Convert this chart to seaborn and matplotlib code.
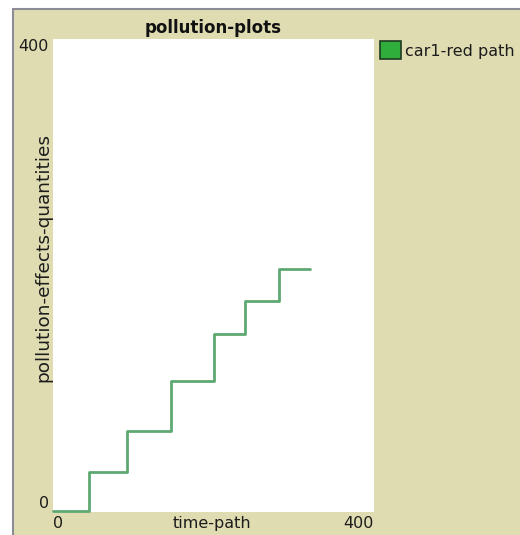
import matplotlib
matplotlib.use("Agg")
import matplotlib.pyplot as plt
import seaborn as sns
import pandas as pd
from matplotlib.patches import Rectangle, Patch
from matplotlib.lines import Line2D

sns.set_style("white")
plt.rcParams['font.family'] = ['DejaVu Sans']

# ── Data ──────────────────────────────────────────────────────
time_path = [0, 45, 92, 147, 200, 239, 282, 320]
pollution = [0, 33, 68, 110, 150, 178, 205, 205]
series_name = "car1-red path"

df = pd.DataFrame({"time-path": time_path, "pollution": pollution})

W, H = 520, 535
fig = plt.figure(figsize=(W / 100, H / 100), dpi=100, facecolor='white')

# tan NetLogo widget panel with grey border on left/top
panel = Rectangle((14 / W, 0), 1 - 14 / W, 1 - 10 / H, transform=fig.transFigure,
                  facecolor='#dfdcb2', edgecolor='none', zorder=-2)
fig.patches.append(panel)
fig.add_artist(Line2D([13 / W, 13 / W], [0, 1 - 9 / H], transform=fig.transFigure,
                      color='#8c8c98', lw=1.5, zorder=-1))
fig.add_artist(Line2D([13 / W, 1], [1 - 9 / H, 1 - 9 / H], transform=fig.transFigure,
                      color='#8c8c98', lw=1.5, zorder=-1))

left, right = 53 / W, 374 / W
bottom, top = (H - 512) / H, (H - 38.5) / H
ax = fig.add_axes([left, bottom, right - left, top - bottom])
ax.set_facecolor('white')

sns.lineplot(data=df, x="time-path", y="pollution", ax=ax,
             drawstyle='steps-post', color='#5ea872', linewidth=2)
for ln in ax.lines:
    ln.set_clip_on(False)

ax.set_xlim(0, 400)
ax.set_ylim(-1, 400)
for s in ax.spines.values():
    s.set_visible(False)

txt = '#1c1c1c'
ax.set_xticks([0, 400])
ax.set_yticks([0, 400])
ax.set_xticklabels(['0', '400'], fontsize=11.5, color=txt)
ax.set_yticklabels(['0', '400'], fontsize=11.5, color=txt)
ax.tick_params(length=0)
ax.tick_params(axis='y', pad=3)
ax.tick_params(axis='x', pad=3)
xl = ax.get_xticklabels()
xl[0].set_ha('left')
xl[1].set_ha('right')
yl = ax.get_yticklabels()
yl[0].set_va('bottom')
yl[1].set_va('top')

ax.set_xlabel("time-path", fontsize=11.5, color=txt)
ax.xaxis.set_label_coords(0.495, -0.024)
ax.xaxis.label.set_va('center')
ax.set_ylabel("pollution-effects-quantities", fontsize=13.3, color=txt)
ax.yaxis.set_label_coords(-0.031, 0.537)
ax.yaxis.label.set_va('center')

ax.set_title("pollution-plots", fontsize=12, fontweight='bold', pad=4, color='#111111')

handle = Patch(facecolor='#2fae3c', edgecolor='#1f3a22', linewidth=1.2, label=series_name)
ax.legend(handles=[handle], loc='upper left', bbox_to_anchor=(0.99, 1.014),
          frameon=False, fontsize=11.5, handlelength=1.3, handleheight=1.3,
          handletextpad=0.25, borderaxespad=0.2, labelcolor=txt)

fig.savefig("out.png", dpi=100, facecolor=fig.get_facecolor())
